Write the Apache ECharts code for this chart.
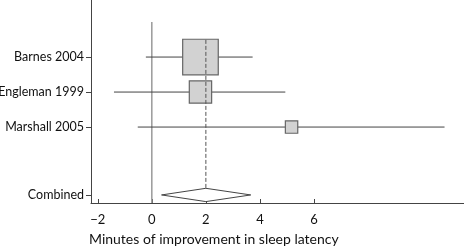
<!DOCTYPE html>
<html>
<head>
<meta charset="utf-8">
<script src="https://cdn.jsdelivr.net/npm/echarts@6/dist/echarts.min.js"></script>
<style>
  html, body { margin: 0; padding: 0; background: #fff; }
  #main { width: 464px; height: 248px; }
</style>
</head>
<body>
<div id="main"></div>
<script>
// studies, top to bottom
var studies = ['Barnes 2004', 'Engleman 1999', 'Marshall 2005'];
var rowPos = [1.63, 2.63, 3.63];
var estimate = [1.8, 1.8, 5.17];
var lower = [-0.22, -1.40, -0.52];
var upper = [3.73, 4.94, 10.83];
var weight = [66, 26, 8]; // % weight -> box area

// pooled result
var combinedLabel = 'Combined';
var combinedPos = 5.57;
var combinedEst = 2.0;
var combinedLower = 0.36;
var combinedUpper = 3.66;

var xTicks = [-2, 0, 2, 4, 6];

var yTickValues = rowPos.concat([combinedPos]);
var yTickNames = studies.concat([combinedLabel]);

var studyData = studies.map(function (s, i) {
  return [rowPos[i], estimate[i], lower[i], upper[i], weight[i]];
});

var myChart = echarts.init(document.getElementById('main'));
myChart.setOption({
  animation: false,
  grid: { left: 91, right: 0, top: 0, bottom: 45, outerBoundsMode: 'none' },
  title: {
    text: 'Minutes of improvement in sleep latency',
    left: 89, top: 232, padding: 0,
    textStyle: { fontFamily: 'Lato', fontSize: 14, fontWeight: 'normal', color: '#111' }
  },
  xAxis: {
    type: 'value',
    min: -2.25, max: 11.55,
    axisLine: { onZero: false, lineStyle: { color: '#444', width: 1 } },
    axisTick: { inside: true, length: 4, customValues: xTicks, lineStyle: { color: '#444' } },
    axisLabel: {
      customValues: xTicks, margin: 10,
      fontFamily: 'Lato', fontSize: 13, color: '#111',
      formatter: function (v) { return v < 0 ? '\u2212' + Math.abs(v) : String(v); }
    },
    splitLine: { show: false }
  },
  yAxis: {
    type: 'value',
    inverse: true,
    min: 0, max: 5.8,
    axisLine: { show: true, onZero: false, lineStyle: { color: '#444', width: 1 } },
    axisTick: { show: true, length: 5, customValues: yTickValues, lineStyle: { color: '#444' } },
    axisLabel: {
      customValues: yTickValues, margin: 7,
      fontFamily: 'Lato', fontSize: 12.5, color: '#111',
      formatter: function (v) {
        var best = 0;
        yTickValues.forEach(function (t, i) {
          if (Math.abs(t - v) < Math.abs(yTickValues[best] - v)) best = i;
        });
        return yTickNames[best];
      }
    },
    splitLine: { show: false }
  },
  series: [
    // line of no effect
    {
      type: 'custom',
      data: [[0, 0.63, 5.8]],
      renderItem: function (params, api) {
        var a = api.coord([api.value(0), api.value(1)]);
        var b = api.coord([api.value(0), api.value(2)]);
        return { type: 'line', shape: { x1: a[0], y1: a[1], x2: b[0], y2: b[1] },
          style: { stroke: '#999', lineWidth: 1.5 } };
      }
    },
    // study CIs + boxes
    {
      type: 'custom',
      data: studyData,
      renderItem: function (params, api) {
        var y = api.value(0);
        var l = api.coord([api.value(2), y]);
        var r = api.coord([api.value(3), y]);
        var c = api.coord([api.value(1), y]);
        var side = 4.38 * Math.sqrt(api.value(4));
        return {
          type: 'group',
          children: [
            { type: 'line', shape: { x1: l[0], y1: l[1], x2: r[0], y2: r[1] },
              style: { stroke: '#444', lineWidth: 1 } },
            { type: 'rect', shape: { x: c[0] - side / 2, y: c[1] - side / 2, width: side, height: side },
              style: { fill: '#d2d2d2', stroke: '#666', lineWidth: 1.2 } }
          ]
        };
      }
    },
    // pooled estimate line
    {
      type: 'custom',
      data: [[combinedEst, 1.14, combinedPos - 0.19]],
      z: 3,
      renderItem: function (params, api) {
        var a = api.coord([api.value(0), api.value(1)]);
        var b = api.coord([api.value(0), api.value(2)]);
        return { type: 'line', shape: { x1: a[0], y1: a[1], x2: b[0], y2: b[1] },
          style: { stroke: '#555', lineWidth: 1, lineDash: [4, 2] } };
      }
    },
    // diamond
    {
      type: 'custom',
      data: [[combinedPos, combinedEst, combinedLower, combinedUpper]],
      renderItem: function (params, api) {
        var y = api.value(0);
        var h = 0.19;
        var pts = [
          api.coord([api.value(2), y]),
          api.coord([api.value(1), y - h]),
          api.coord([api.value(3), y]),
          api.coord([api.value(1), y + h])
        ];
        return { type: 'polygon', shape: { points: pts },
          style: { fill: '#fff', stroke: '#444', lineWidth: 1 } };
      }
    }
  ]
});
</script>
</body>
</html>
